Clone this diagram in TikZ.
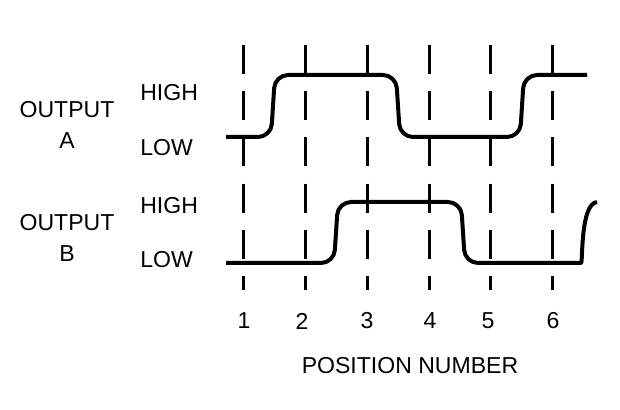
\documentclass[tikz,border=0pt]{standalone}
\usepackage{fontspec}
\setmainfont{Liberation Sans}
\usetikzlibrary{positioning}

\begin{document}
\begin{tikzpicture}[
	x=0.25mm,
	y=-0.25mm,
	font=\fontsize{16.4}{22}\selectfont,
	outlabel/.style={
		inner sep=0pt,
		align=center,
	},
	level/.style={
		inner sep=0pt,
		anchor=west,
	},
	posnum/.style={
		inner sep=0pt,
	},
	guide/.style={
		line width=0.75mm,
		dash pattern=on 7.25mm off 4.3mm,
	},
	signal/.style={
		line width=1mm,
		rounded corners=3.25mm,
		line join=round,
	},
]
\useasboundingbox (0,0) rectangle (620,410);

% Svislé pomocné čáry pro jednotlivé polohy
\draw[guide] (243,45) -- (243,290);
\draw[guide] (305,45) -- (305,290);
\draw[guide] (367,45) -- (367,290);
\draw[guide] (429,45) -- (429,290);
\draw[guide] (490,45) -- (490,290);
\draw[guide] (552,45) -- (552,290);

% Průběh výstupu A
\draw[signal] (226,137) -- (271,137) -- (275,75) -- (396,75) -- (400,137)
	-- (520,137) -- (524,75) -- (587,75);

% Průběh výstupu B -- na konci jen začínající náběžná hrana
\draw[signal] (226,263) -- (334,263) -- (338,202) -- (461,202) -- (465,263)
	-- (568,263) .. controls (583,263) and (580,204) .. (597,202);

% Popisky výstupů a úrovní
\node[outlabel] (outA) at (67,125) {OUTPUT\\A};
\node[outlabel] (outB) at (67,238) {OUTPUT\\B};
\node[level] (highA) at (140,93) {HIGH};
\node[level] (lowA) at (140,148) {LOW};
\node[level] (highB) at (140,206) {HIGH};
\node[level] (lowB) at (140,260) {LOW};

% Čísla poloh pod čarami
\node[posnum] (pos1) at (244,321) {1};
\node[posnum] (pos2) at (302,321) {2};
\node[posnum] (pos3) at (367,321) {3};
\node[posnum] (pos4) at (430,321) {4};
\node[posnum] (pos5) at (488,321) {5};
\node[posnum] (pos6) at (553,321) {6};
\node[posnum] (posname) at (410,366) {POSITION NUMBER};

\end{tikzpicture}
\end{document}
